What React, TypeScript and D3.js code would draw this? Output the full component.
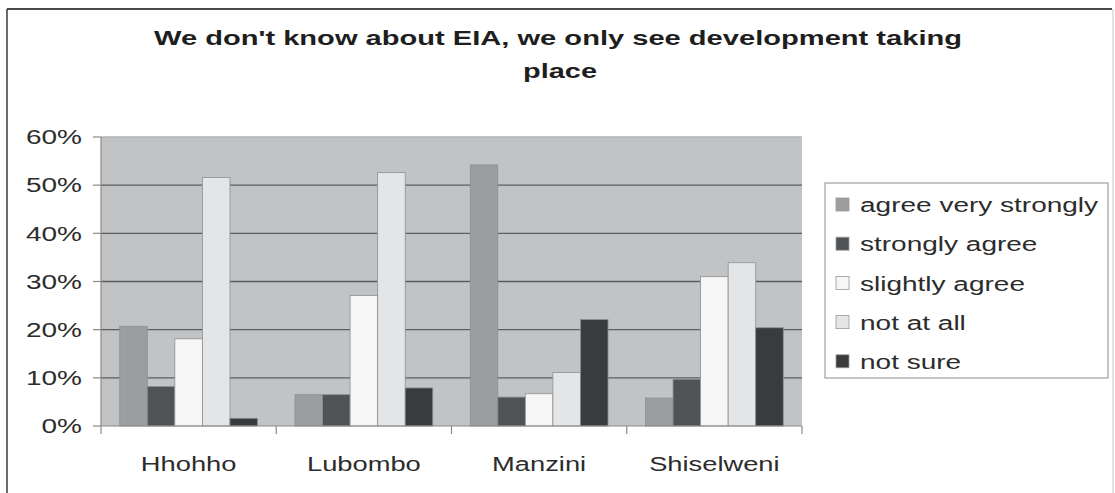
import React from "react";
import * as d3 from "d3";

const categories = ["Hhohho", "Lubombo", "Manzini", "Shiselweni"];
const seriesNames = ["agree very strongly", "strongly agree", "slightly agree", "not at all", "not sure"];
const agreeVeryStrongly = [0.207, 0.065, 0.542, 0.058];
const stronglyAgree = [0.082, 0.065, 0.06, 0.097];
const slightlyAgree = [0.181, 0.271, 0.067, 0.31];
const notAtAll = [0.516, 0.526, 0.111, 0.339];
const notSure = [0.016, 0.079, 0.221, 0.204];
const yTicks = [0, 0.1, 0.2, 0.3, 0.4, 0.5, 0.6];
const titleLines = ["We don't know about EIA, we only see development taking", "place"];

const seriesValues = [agreeVeryStrongly, stronglyAgree, slightlyAgree, notAtAll, notSure];
const colors = ["#9b9d9f", "#4f5355", "#f6f6f6", "#e4e5e7", "#3a3b3d"];

const W = 1115, H = 493;
const plot = { left: 101, right: 802, top: 137, bottom: 426 };
const SX = 1.4;
const FONT = "'Liberation Sans', Arial, sans-serif";

function SText({ x, y, anchor = "start", size = 20, weight = "normal", fill = "#2c2c2c", children, dy = "0" }: any) {
  return (
    <text
      transform={`translate(${x},${y}) scale(${SX},1)`}
      textAnchor={anchor}
      fontSize={size}
      fontWeight={weight}
      fontFamily={FONT}
      fill={fill}
      dy={dy}
    >
      {children}
    </text>
  );
}

export default function App() {
  const x0 = d3.scaleBand<string>().domain(categories).range([plot.left, plot.right]).paddingInner(0).paddingOuter(0);
  const x1 = d3.scaleBand<string>().domain(seriesNames).range([0, x0.bandwidth()]).paddingInner(0).paddingOuter(0.68);
  const y = d3.scaleLinear().domain([0, 0.6]).range([plot.bottom, plot.top]);
  const fmt = d3.format(".0%");

  const legendX = 825, legendY = 183, legendW = 283, legendH = 195;
  const legendRowY = (i: number) => 205 + i * 39.2;

  return (
    <svg width={W} height={H} style={{ position: "absolute", left: 0, top: 0, background: "#fff" }}>
      <rect x={0} y={0} width={W} height={H} fill="#fff" />
      {/* outer frame */}
      <line x1={7} x2={1112} y1={9} y2={9} stroke="#4a4a4a" strokeWidth={2} />
      <line x1={7} x2={7} y1={9} y2={H} stroke="#3a3a3a" strokeWidth={1.5} />
      <line x1={1113} x2={1113} y1={9} y2={H} stroke="#d8d8d8" strokeWidth={1.5} />

      {/* title */}
      <text x={558} y={45} textAnchor="middle" fontSize={21} fontWeight="bold" fontFamily={FONT} fill="#1e1e1e"
        textLength={808} lengthAdjust="spacingAndGlyphs">{titleLines[0]}</text>
      <text x={560} y={78} textAnchor="middle" fontSize={21} fontWeight="bold" fontFamily={FONT} fill="#1e1e1e"
        textLength={74} lengthAdjust="spacingAndGlyphs">{titleLines[1]}</text>

      {/* plot background */}
      <rect x={plot.left} y={plot.top} width={plot.right - plot.left} height={plot.bottom - plot.top} fill="#c1c3c5" />

      {/* gridlines */}
      {yTicks.filter((t) => t > 0).map((t) => (
        <line key={t} x1={plot.left} x2={plot.right} y1={y(t)} y2={y(t)}
          stroke={t === 0.6 ? "#b0b2b4" : "#5c5e60"} strokeWidth={1.4} />
      ))}

      {/* bars */}
      {categories.map((c, ci) => (
        <g key={c}>
          {seriesNames.map((s, si) => {
            const v = seriesValues[si][ci];
            const bx = (x0(c) as number) + (x1(s) as number);
            return (
              <rect key={s} x={bx} y={y(v)} width={x1.bandwidth()} height={y(0) - y(v)}
                fill={colors[si]} stroke="#8e9092" strokeWidth={0.8} />
            );
          })}
        </g>
      ))}

      {/* axes */}
      <line x1={plot.left} x2={plot.left} y1={plot.top} y2={plot.bottom} stroke="#8a8a8a" strokeWidth={1.2} />
      <line x1={plot.left} x2={plot.right} y1={plot.bottom} y2={plot.bottom} stroke="#8a8a8a" strokeWidth={1.2} />
      {yTicks.map((t) => (
        <g key={t}>
          <line x1={plot.left - 8} x2={plot.left} y1={y(t)} y2={y(t)} stroke="#8a8a8a" strokeWidth={1.2} />
          <SText x={82} y={y(t)} anchor="end" dy="0.36em">{fmt(t)}</SText>
        </g>
      ))}
      {[...categories.map((c) => x0(c) as number), plot.right].map((xv, i) => (
        <line key={i} x1={xv} x2={xv} y1={plot.bottom} y2={plot.bottom + 8} stroke="#8a8a8a" strokeWidth={1.2} />
      ))}
      {categories.map((c) => (
        <SText key={c} x={(x0(c) as number) + x0.bandwidth() / 2} y={471} anchor="middle" size={19.5}>{c}</SText>
      ))}

      {/* legend */}
      <rect x={legendX} y={legendY} width={legendW} height={legendH} fill="#fff" stroke="#a0a0a0" strokeWidth={1.2} />
      {seriesNames.map((s, i) => (
        <g key={s}>
          <rect x={836} y={legendRowY(i) - 7} width={13} height={13} fill={colors[i]} stroke="#9a9a9a" strokeWidth={0.8} />
          <SText x={860} y={legendRowY(i)} dy="0.36em">{s}</SText>
        </g>
      ))}
    </svg>
  );
}
